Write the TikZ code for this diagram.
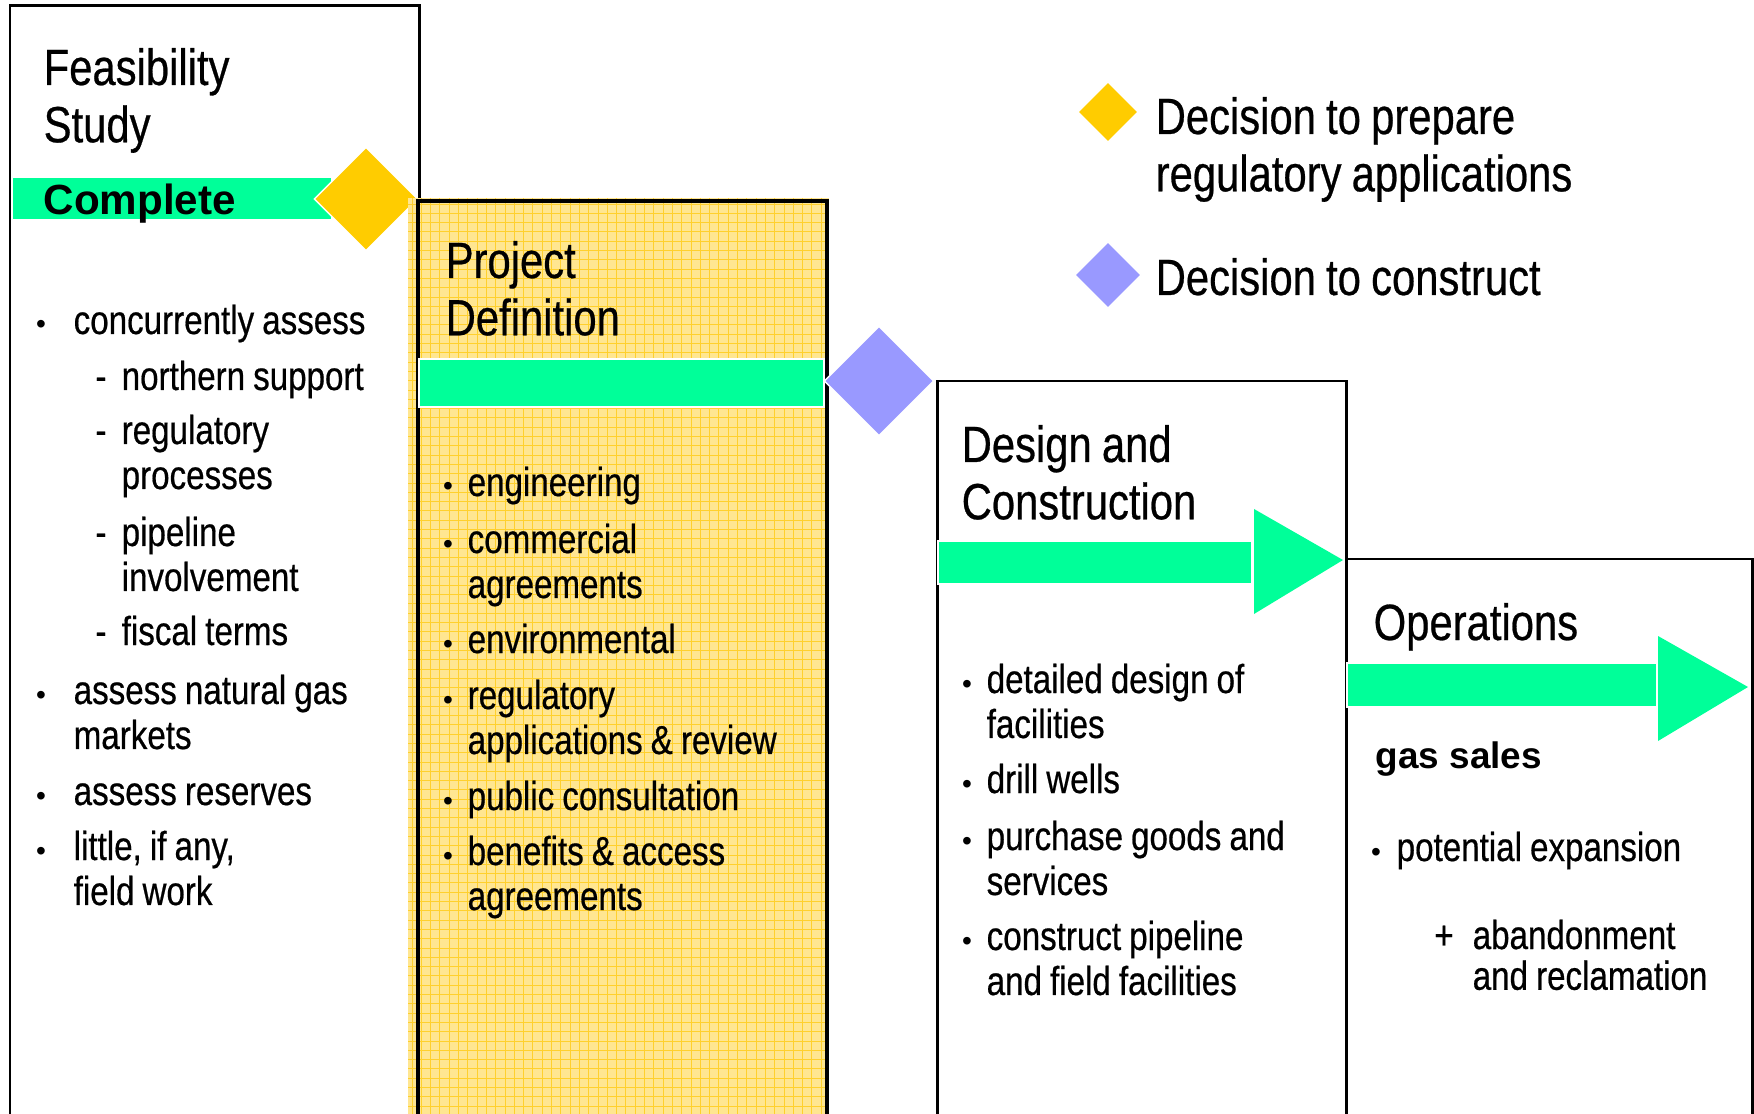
\documentclass[tikz,border=0pt]{standalone}
\usepackage{fontspec}
\setmainfont{Liberation Sans}
\newfontfamily\narrow{Liberation Sans}[FakeStretch=0.82, FakeBold=0.5]
\newcommand\tightspace{\spaceskip=0.2em\relax}
\usetikzlibrary{shapes.geometric}

\definecolor{bandgreen}{RGB}{0,255,153}
\definecolor{gold}{RGB}{255,204,0}
\definecolor{lilac}{RGB}{153,153,255}
\definecolor{padfill}{RGB}{255,230,145}
\definecolor{padgrid}{RGB}{255,208,45}

\begin{document}
\begin{tikzpicture}[x=0.1mm, y=-0.1mm,
    phase/.style={draw=black, line width=0.85pt},
    band/.style={fill=bandgreen, draw=white, line width=0.4pt},
    milestone/.style={diamond, inner sep=0, draw=white, line width=0.4pt},
    heading/.style={anchor=base west, inner sep=0, yshift=-0.3mm, align=left, text width=70mm, font=\narrow\fontsize{14.5pt}{16.3pt}\selectfont, execute at begin node=\tightspace},
    item/.style={anchor=base west, inner sep=0, yshift=-0.3mm, align=left, text width=50mm, font=\narrow\fontsize{11.5pt}{12.8pt}\selectfont, execute at begin node=\tightspace},
    bulletdot/.style={anchor=base, inner sep=0, yshift=-0.3mm, font=\fontsize{8pt}{8pt}\selectfont},
    subdash/.style={anchor=base, inner sep=0, yshift=-0.3mm, font=\narrow\fontsize{11.5pt}{12.8pt}\selectfont},
    strong/.style={anchor=base west, inner sep=0, yshift=-0.3mm}]

                \useasboundingbox (0, 0) rectangle (1754, 1114);

                % feasibility study
                \draw[phase] (10, 1130) -- (10, 6) -- (419, 6) -- (419, 1130);
                \draw[band] (12, 177) rectangle (332, 220);
                \node[milestone, fill=gold, minimum size=10.4mm] at (366, 199) (prep) {};
                \node[heading] at (43, 82) (feas) {Feasibility\\Study};
                \node[strong, font=\bfseries\fontsize{12pt}{14pt}\selectfont] at (43, 212) (complete) {Complete};

                \node[bulletdot] at (41, 331) {•};
                \node[item] at (73, 331) (fs1) {concurrently assess};
                \node[subdash] at (101, 387) {-};
                \node[item] at (121, 387) (fs1a) {northern support};
                \node[subdash] at (101, 441) {-};
                \node[item] at (121, 441) (fs1b) {regulatory\\processes};
                \node[subdash] at (101, 543) {-};
                \node[item] at (121, 543) (fs1c) {pipeline\\involvement};
                \node[subdash] at (101, 642) {-};
                \node[item] at (121, 642) (fs1d) {fiscal terms};
                \node[bulletdot] at (41, 701) {•};
                \node[item] at (73, 701) (fs2) {assess natural gas\\markets};
                \node[bulletdot] at (41, 802) {•};
                \node[item] at (73, 802) (fs3) {assess reserves};
                \node[bulletdot] at (41, 857) {•};
                \node[item] at (73, 857) (fs4) {little, if any,\\field work};

                % project definition
                \fill[padfill] (408, 198) rectangle (829, 1130);
                \foreach \gx in {412, 421.3, ..., 829}
                    \draw[padgrid, line width=0.25pt] (\gx, 198) -- (\gx, 1130);
                \foreach \gy in {204, 213.3, ..., 1120}
                    \draw[padgrid, line width=0.25pt] (408, \gy) -- (829, \gy);
                \draw[line width=1.2pt] (418, 1130) -- (418, 201) -- (827, 201) -- (827, 1130);
                \draw[band] (419, 359) rectangle (824, 407);
                \node[milestone, fill=lilac, minimum size=11mm] at (879, 381) (build) {};
                \node[heading] at (445, 275) (proj) {Project\\Definition};

                \node[bulletdot] at (448, 493) {•};
                \node[item] at (467, 493) (pd1) {engineering};
                \node[bulletdot] at (448, 550) {•};
                \node[item] at (467, 550) (pd2) {commercial\\agreements};
                \node[bulletdot] at (448, 650) {•};
                \node[item] at (467, 650) (pd3) {environmental};
                \node[bulletdot] at (448, 706) {•};
                \node[item] at (467, 706) (pd4) {regulatory\\applications \& review};
                \node[bulletdot] at (448, 807) {•};
                \node[item] at (467, 807) (pd5) {public consultation};
                \node[bulletdot] at (448, 862) {•};
                \node[item] at (467, 862) (pd6) {benefits \& access\\agreements};

                % design and construction
                \draw[phase] (937, 1130) -- (937, 381) -- (1346, 381) -- (1346, 1130);
                \draw[band] (938, 541) rectangle (1252, 584);
                \fill[bandgreen] (1254, 509) -- (1343, 560) -- (1254, 614) -- cycle;
                \node[heading] at (961, 459) (dc) {Design and\\Construction};

                \node[bulletdot] at (967, 690) {•};
                \node[item] at (986, 690) (dc1) {detailed design of\\facilities};
                \node[bulletdot] at (967, 790) {•};
                \node[item] at (986, 790) (dc2) {drill wells};
                \node[bulletdot] at (967, 847) {•};
                \node[item] at (986, 847) (dc3) {purchase goods and\\services};
                \node[bulletdot] at (967, 947) {•};
                \node[item] at (986, 947) (dc4) {construct pipeline\\and field facilities};

                % operations
                \draw[phase] (1346, 1130) -- (1346, 559) -- (1752, 559) -- (1752, 1130);
                \draw[band] (1347, 663) rectangle (1657, 707);
                \fill[bandgreen] (1658, 636) -- (1748, 687) -- (1658, 741) -- cycle;
                \node[heading] at (1373, 637) (ops) {Operations};
                \node[strong, font=\bfseries\fontsize{10.5pt}{12pt}\selectfont] at (1375, 765) (gas) {gas sales};

                \node[bulletdot] at (1376, 858) {•};
                \node[item] at (1396, 858) (op1) {potential expansion};
                \node[subdash] at (1444, 946) {+};
                \node[item, font=\narrow\fontsize{11.5pt}{11.6pt}\selectfont] at (1472, 946) (op2) {abandonment\\and reclamation};

                % legend
                \node[milestone, fill=gold, minimum size=6.1mm] at (1108, 112) (keyprep) {};
                \node[milestone, fill=lilac, minimum size=6.7mm] at (1108, 275) (keybuild) {};
                \node[heading] at (1155, 131) (keyprept) {Decision to prepare\\regulatory applications};
                \node[heading] at (1155, 292) (keybuildt) {Decision to construct};

\end{tikzpicture}
\end{document}
